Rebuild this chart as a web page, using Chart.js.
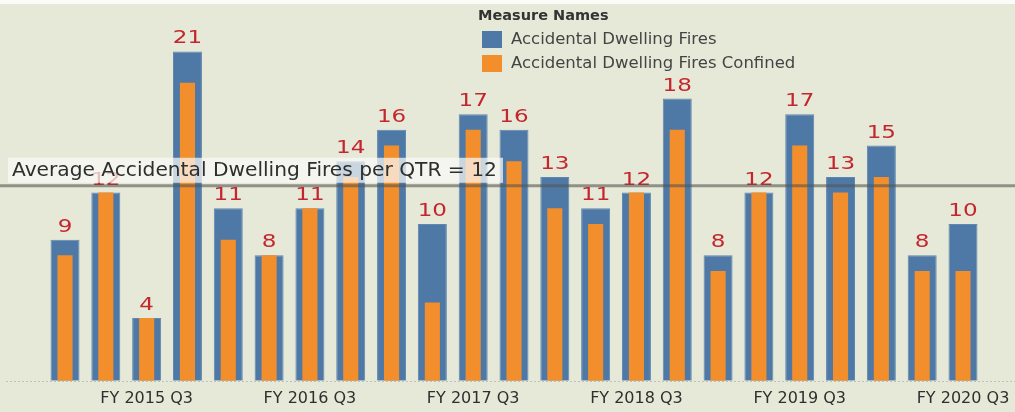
<!DOCTYPE html>
<html>
<head>
<meta charset="utf-8">
<script src="https://cdn.jsdelivr.net/npm/chart.js@4"></script>
<style>
  html, body { margin: 0; padding: 0; background: #e6e9d7; }
  #wrap { width: 1015px; height: 412px; }
</style>
</head>
<body>
<div id="wrap"><canvas id="fires" width="1015" height="412"></canvas></div>
<script>
// quarters FY 2015 Q1 .. FY 2020 Q3
const quarters = [
  "FY 2015 Q1", "FY 2015 Q2", "FY 2015 Q3", "FY 2015 Q4",
  "FY 2016 Q1", "FY 2016 Q2", "FY 2016 Q3", "FY 2016 Q4",
  "FY 2017 Q1", "FY 2017 Q2", "FY 2017 Q3", "FY 2017 Q4",
  "FY 2018 Q1", "FY 2018 Q2", "FY 2018 Q3", "FY 2018 Q4",
  "FY 2019 Q1", "FY 2019 Q2", "FY 2019 Q3", "FY 2019 Q4",
  "FY 2020 Q1", "FY 2020 Q2", "FY 2020 Q3"
];
const tickQuarters = ["FY 2015 Q3", "FY 2016 Q3", "FY 2017 Q3", "FY 2018 Q3", "FY 2019 Q3", "FY 2020 Q3"];
const dwellingFires = [9, 12, 4, 21, 11, 8, 11, 14, 16, 10, 17, 16, 13, 11, 12, 18, 8, 12, 17, 13, 15, 8, 10];
const dwellingFiresConfined = [8, 12, 4, 19, 9, 8, 11, 13, 15, 5, 16, 14, 11, 10, 12, 16, 7, 12, 15, 12, 13, 7, 7];
const seriesNames = ["Accidental Dwelling Fires", "Accidental Dwelling Fires Confined"];

const BLUE = "#4e79a7";
const ORANGE = "#f28e2b";
const RED = "#c4262d";
const BG = "#e6e9d7";

var avgFires = dwellingFires.reduce((a, b) => a + b, 0) / dwellingFires.length;

// background + white strip on top
const bgPlugin = {
  id: "bg",
  beforeDraw(chart) {
    const ctx = chart.ctx;
    ctx.save();
    ctx.fillStyle = BG;
    ctx.fillRect(0, 0, chart.width, chart.height);
    ctx.fillStyle = "#fbfbf7";
    ctx.fillRect(0, 0, chart.width, 4);
    // dotted baseline across the whole width
    const y0 = chart.scales.y.getPixelForValue(0);
    ctx.strokeStyle = "#bfc1b6";
    ctx.lineWidth = 1;
    ctx.setLineDash([2, 2]);
    ctx.beginPath();
    ctx.moveTo(6, Math.round(y0) + 0.5);
    ctx.lineTo(chart.width, Math.round(y0) + 0.5);
    ctx.stroke();
    ctx.restore();
  }
};

// value labels, average line, legend
const extrasPlugin = {
  id: "extras",
  afterDatasetsDraw(chart) {
    const ctx = chart.ctx;
    const meta = chart.getDatasetMeta(1); // blue bars
    ctx.save();
    ctx.fillStyle = RED;
    ctx.font = "18px 'DejaVu Sans'";
    ctx.textAlign = "center";
    ctx.textBaseline = "alphabetic";
    meta.data.forEach(function (bar, i) {
      ctx.save();
      ctx.translate(bar.x, bar.y - 8);
      ctx.scale(1.28, 1);
      ctx.fillText(String(dwellingFires[i]), 0, 0);
      ctx.restore();
    });

    // average reference line
    const ya = chart.scales.y.getPixelForValue(avgFires);
    ctx.fillStyle = "rgba(250,250,246,0.72)";
    ctx.fillRect(8, ya - 28, 495, 25);
    ctx.strokeStyle = "rgba(85,85,80,0.6)";
    ctx.lineWidth = 3;
    ctx.beginPath();
    ctx.moveTo(0, ya);
    ctx.lineTo(chart.width, ya);
    ctx.stroke();
    ctx.fillStyle = "#2e2e2e";
    ctx.font = "20.2px 'DejaVu Sans'";
    ctx.textAlign = "left";
    ctx.textBaseline = "middle";
    ctx.fillText("Average Accidental Dwelling Fires per QTR = " + Math.round(avgFires), 12, ya - 15);

    // legend
    ctx.fillStyle = "#333";
    ctx.font = "bold 14.5px 'DejaVu Sans'";
    ctx.fillText("Measure Names", 478, 16);
    const colors = [BLUE, ORANGE];
    ctx.font = "16.5px 'DejaVu Sans'";
    seriesNames.forEach(function (name, i) {
      const cy = 39 + i * 24;
      ctx.fillStyle = colors[i];
      ctx.fillRect(482, cy - 8, 20, 17);
      ctx.fillStyle = "#444";
      ctx.fillText(name, 511, cy + 1);
    });
    ctx.restore();
  }
};

var ctx = document.getElementById("fires").getContext("2d");
var chart = new Chart(ctx, {
  type: "bar",
  data: {
    labels: quarters,
    datasets: [
      {
        label: seriesNames[1],
        data: dwellingFiresConfined,
        backgroundColor: ORANGE,
        grouped: false,
        barPercentage: 0.37,
        categoryPercentage: 1,
        order: 1
      },
      {
        label: seriesNames[0],
        data: dwellingFires,
        backgroundColor: BLUE,
        borderColor: "#5f87b2",
        borderWidth: 1,
        grouped: false,
        barPercentage: 0.71,
        categoryPercentage: 1,
        order: 2
      }
    ]
  },
  options: {
    responsive: false,
    animation: false,
    layout: {
      padding: { left: 44.6, right: 31.6, top: 4.4, bottom: -5.2 }
    },
    scales: {
      x: {
        grid: { display: false, drawTicks: false },
        border: { display: false },
        afterFit: function (scale) {
          // last label may hang past the plot, don't shrink the bars for it
          scale.paddingLeft = 0;
          scale.paddingRight = 0;
        },
        ticks: {
          autoSkip: false,
          maxRotation: 0,
          padding: 8.6,
          color: "#2f2f2f",
          font: { family: "'DejaVu Sans'", size: 16 },
          callback: function (value) {
            const lab = this.getLabelForValue(value);
            return tickQuarters.includes(lab) ? lab : "";
          }
        }
      },
      y: {
        display: false,
        min: 0,
        max: 24
      }
    },
    plugins: {
      legend: { display: false },
      tooltip: { enabled: false }
    }
  },
  plugins: [bgPlugin, extrasPlugin]
});
</script>
</body>
</html>
